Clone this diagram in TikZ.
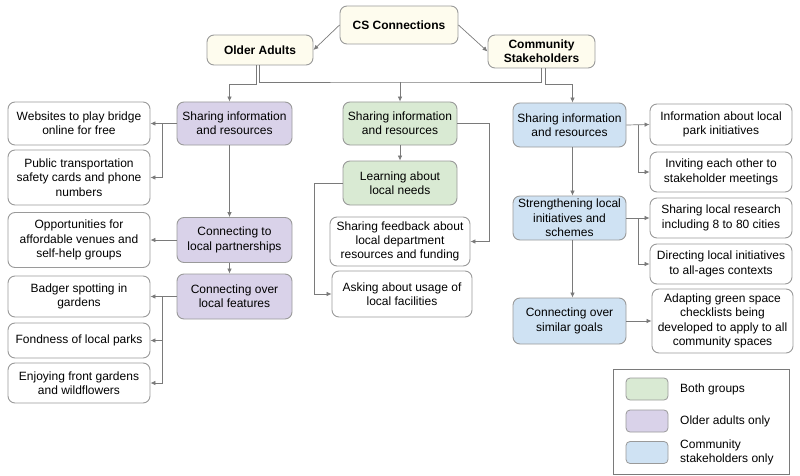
\documentclass[tikz,border=0pt]{standalone}
\usepackage{fontspec}
\setmainfont{Liberation Sans}
\usepackage{xcolor}
\usepackage{tikz}
\usetikzlibrary{arrows.meta}
\definecolor{cream}{HTML}{FEFCEE}
\definecolor{lilac}{HTML}{D9D2E9}
\definecolor{mint}{HTML}{D9EAD3}
\definecolor{sky}{HTML}{CFE2F3}
\definecolor{edge}{HTML}{9A9A9A}
\definecolor{wire}{HTML}{7A7A7A}
\tikzstyle{box} = [rectangle, rounded corners=7pt, draw=edge, line width=0.9pt, align=center, inner sep=2pt, font=\fontsize{12}{14.3}\selectfont]
\tikzstyle{topbox} = [box, fill=cream, font=\fontsize{12}{14.3}\selectfont\bfseries]
\tikzstyle{oabox} = [box, fill=lilac, minimum width=115pt]
\tikzstyle{bothbox} = [box, fill=mint, minimum width=114pt]
\tikzstyle{stbox} = [box, fill=sky, minimum width=113pt]
\tikzstyle{leaf} = [box, fill=white, minimum width=142pt]
\tikzstyle{swatch} = [rectangle, rounded corners=4pt, draw=edge, line width=0.8pt, minimum width=42pt, minimum height=22pt]
\tikzstyle{key} = [anchor=west, align=left, inner sep=0pt, font=\fontsize{12}{14.3}\selectfont]
\tikzstyle{line} = [wire, line width=0.7pt]
\tikzstyle{arrow} = [line, -{Latex[length=5pt,width=4.5pt]}]

\begin{document}
\begin{tikzpicture}[x=1pt, y=-1pt]
		\useasboundingbox (0,0) rectangle (800,476);
		\node[topbox, minimum width=118pt, minimum height=38pt] (cs) at (399,25) {CS Connections};
		\node[topbox, minimum width=106pt, minimum height=30pt] (oa) at (260,50) {Older Adults};
		\node[topbox, minimum width=107pt, minimum height=33pt] (st) at (541.5,51.5) {Community\\Stakeholders};

		\node[oabox, minimum height=43pt] (oashare) at (234.5,123.5) {Sharing information\\and resources};
		\node[oabox, minimum height=45pt] (oapart) at (234.5,240) {Connecting to\\local partnerships};
		\node[oabox, minimum height=45pt] (oafeat) at (234.5,296.5) {Connecting over\\local features};
		\node[leaf, minimum height=43pt] (web) at (79,123.5) {Websites to play bridge\\online for free};
		\node[leaf, minimum height=55pt] (bus) at (79,177.5) {Public transportation\\safety cards and phone\\numbers};
		\node[leaf, minimum height=55pt] (venue) at (79,240) {Opportunities for\\affordable venues and\\self-help groups};
		\node[leaf, minimum height=41pt] (badger) at (79,296.5) {Badger spotting in\\gardens};
		\node[leaf, minimum height=35pt] (parks) at (79,340.5) {Fondness of local parks};
		\node[leaf, minimum height=40pt] (gardens) at (79,383) {Enjoying front gardens\\and wildflowers};

		\node[bothbox, minimum height=43pt] (bothshare) at (400,123.5) {Sharing information\\and resources};
		\node[bothbox, minimum height=44pt] (bothneeds) at (400,183) {Learning about\\local needs};
		\node[leaf, minimum width=140pt, minimum height=49pt] (feedback) at (400,241.5) {Sharing feedback about\\local department\\resources and funding};
		\node[leaf, minimum width=140pt, minimum height=46pt] (usage) at (402,294) {Asking about usage of\\local facilities};

		\node[stbox, minimum height=44pt] (stshare) at (569.5,125) {Sharing information\\and resources};
		\node[stbox, minimum height=44pt] (ststrength) at (569.5,218) {Strengthening local\\initiatives and\\schemes};
		\node[stbox, minimum height=46pt] (stgoals) at (569.5,321) {Connecting over\\similar goals};
		\node[leaf, minimum height=41pt] (park) at (721,124.5) {Information about local\\park initiatives};
		\node[leaf, minimum height=40pt] (invite) at (721,172) {Inviting each other to\\stakeholder meetings};
		\node[leaf, minimum height=40pt] (research) at (721,218) {Sharing local research\\including 8 to 80 cities};
		\node[leaf, minimum height=40pt] (directing) at (721,264) {Directing local initiatives\\to all-ages contexts};
		\node[leaf, minimum width=141pt, minimum height=64pt] (adapt) at (722.5,321) {Adapting green space\\checklists being\\developed to apply to all\\community spaces};

		\node[draw=wire, line width=0.8pt, minimum width=176pt, minimum height=105pt] (legend) at (701,421.5) {};
		\node[swatch, fill=mint] (keyboth) at (647,389) {};
		\node[swatch, fill=lilac] (keyoa) at (647,421) {};
		\node[swatch, fill=sky] (keyst) at (647,452.5) {};
		\node[key] (txtboth) at (680,389) {Both groups};
		\node[key] (txtoa) at (680,421) {Older adults only};
		\node[key] (txtst) at (680,452.5) {Community\\stakeholders only};

		\coordinate (mid) at (400,82);
		\draw[arrow] (cs.west) -- (oa.east);
		\draw[arrow] (cs.east) -- (st.west);
		\draw[line] ([xshift=-1pt]oa.south) |- (mid) -| (st.south);
		\draw[arrow] (mid) -- (bothshare);
		\draw[arrow] ([xshift=-4pt]oa.south) -- ++(0,19) -| ([xshift=-5pt]oashare.north);
		\draw[arrow] ([xshift=4pt]st.south) -- ++(0,16) -| ([xshift=3pt]stshare.north);

		\draw[arrow] (oashare.west) -- (web.east);
		\draw[arrow] ([xshift=-14pt]oashare.west) |- (bus.east);
		\draw[arrow] ([xshift=-5pt]oashare.south) -- ([xshift=-5pt]oapart.north);
		\draw[arrow] (oapart.west) -- (venue.east);
		\draw[arrow] ([xshift=-5pt]oapart.south) -- ([xshift=-5pt]oafeat.north);
		\draw[arrow] (oafeat.west) -- (badger.east);
		\draw[arrow] ([xshift=-14pt]oafeat.west) |- (parks.east);
		\draw[arrow] ([xshift=-14pt]oafeat.west) |- (gardens.east);

		\draw[arrow] (bothshare) -- (bothneeds);
		\draw[arrow] (bothshare.east) -- ++(32,0) |- (feedback.east);
		\draw[arrow] (bothneeds.west) -- ++(-28,0) |- (usage.west);

		\draw[arrow] (stshare.east) -- (park.west);
		\draw[arrow] ([xshift=12pt]stshare.east) |- (invite.west);
		\draw[arrow] ([xshift=3pt]stshare.south) -- ([xshift=3pt]ststrength.north);
		\draw[arrow] (ststrength.east) -- (research.west);
		\draw[arrow] ([xshift=12pt]ststrength.east) |- (directing.west);
		\draw[arrow] ([xshift=3pt]ststrength.south) -- ([xshift=3pt]stgoals.north);
		\draw[arrow] (stgoals.east) -- (adapt.west);
	\end{tikzpicture}
\end{document}
